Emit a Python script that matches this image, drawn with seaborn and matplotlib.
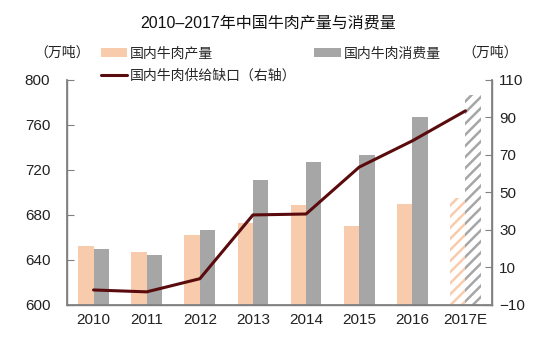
import numpy as np
import pandas as pd
import matplotlib
matplotlib.use("Agg")
import matplotlib.pyplot as plt
import seaborn as sns
from matplotlib.patches import Patch
from matplotlib.lines import Line2D

years = ["2010", "2011", "2012", "2013", "2014", "2015", "2016", "2017E"]
production = [652, 647, 662, 673, 689, 670, 690, 695]
consumption = [650, 644, 667, 711, 727, 733, 767, 787]
gap = [-2, -3, 4, 38, 38.5, 63.5, 77.5, 93.5]
left_ticks = [600, 640, 680, 720, 760, 800]
right_ticks = [-10, 10, 30, 50, 70, 90, 110]

title = "2010–2017年中国牛肉产量与消费量"
lab_prod = "国内牛肉产量"
lab_cons = "国内牛肉消费量"
lab_gap = "国内牛肉供给缺口（右轴）"
unit = "（万吨）"

c_prod = "#F8CBAD"
c_cons = "#A6A6A6"
c_line = "#5A0B0E"
c_spine = "#808080"

sns.set_theme(style="white")
plt.rcParams["font.family"] = ["Liberation Sans", "Noto Sans CJK SC", "DejaVu Sans"]
plt.rcParams["hatch.linewidth"] = 1.8
cjk = ["Noto Sans CJK SC", "DejaVu Sans"]

df = pd.DataFrame({
    "year": years * 2,
    "value": production + consumption,
    "series": [lab_prod] * len(years) + [lab_cons] * len(years),
})

fig = plt.figure(figsize=(5.36, 3.37), dpi=100)
ax = fig.add_axes([0.125, 0.095, 0.793, 0.668])

sns.barplot(data=df, x="year", y="value", hue="series", order=years,
            hue_order=[lab_prod, lab_cons], palette=[c_prod, c_cons],
            width=0.58, gap=0, dodge=True, legend=False, ax=ax,
            saturation=1, linewidth=0)

# hatch the estimate bars
for cont, col in zip(ax.containers, [c_prod, c_cons]):
    p = cont.patches[-1]
    p.set_facecolor("white")
    p.set_edgecolor(col)
    p.set_hatch("///")
    p.set_linewidth(0)

ax.set_ylim(600, 800)
ax.set_yticks(left_ticks)
ax.set_xlim(-0.5, len(years) - 0.5)
ax.set_xlabel("")
ax.set_ylabel("")
ax.tick_params(axis="y", direction="in", length=5, width=0.8, color=c_spine,
               labelsize=11, labelcolor="#222222", pad=12)
ax.tick_params(axis="x", length=0, labelsize=11, labelcolor="#222222", pad=6)
ax.set_xticks(np.arange(len(years)) + 0.5, minor=True)
ax.tick_params(axis="x", which="minor", direction="in", length=4, color=c_spine, width=0.8)
ax.spines["top"].set_visible(False)
for s in ["left", "bottom", "right"]:
    ax.spines[s].set_color(c_spine)
    ax.spines[s].set_linewidth(1.0)

ax2 = ax.twinx()
sns.lineplot(x=np.arange(len(years)), y=gap, ax=ax2, color=c_line, linewidth=2.2)
ax2.set_ylim(-10, 110)
ax2.set_yticks(right_ticks)
ax2.tick_params(axis="y", direction="in", length=5, width=0.8, color=c_spine,
                labelsize=11, labelcolor="#222222", pad=5)
ax2.spines["top"].set_visible(False)
for s in ["left", "bottom", "right"]:
    ax2.spines[s].set_color(c_spine)
ax2.set_ylabel("")
ax2.set_xlim(-0.5, len(years) - 0.5)

fig.text(0.5, 0.932, title, ha="center", va="center", fontsize=11.5,
         family=["Liberation Sans", "Noto Sans CJK SC"], color="#111111")

handles = [Patch(facecolor=c_prod, edgecolor="none"),
           Line2D([0], [0], color=c_line, linewidth=2.2),
           Patch(facecolor=c_cons, edgecolor="none")]
labels = [lab_prod, lab_gap, lab_cons]
leg = fig.legend(handles, labels, ncol=2, loc="upper left",
                 bbox_to_anchor=(0.188, 0.862), frameon=False,
                 prop={"family": cjk, "size": 10}, handlelength=1.9,
                 handleheight=0.6, handletextpad=0.2, columnspacing=1.3,
                 labelspacing=0.6, borderaxespad=0, borderpad=0)

fig.text(0.115, 0.843, unit, ha="center", va="center", fontsize=10,
         family=cjk, color="#222222")
fig.text(0.915, 0.843, unit, ha="center", va="center", fontsize=10,
         family=cjk, color="#222222")

fig.savefig("out.png", dpi=100)
